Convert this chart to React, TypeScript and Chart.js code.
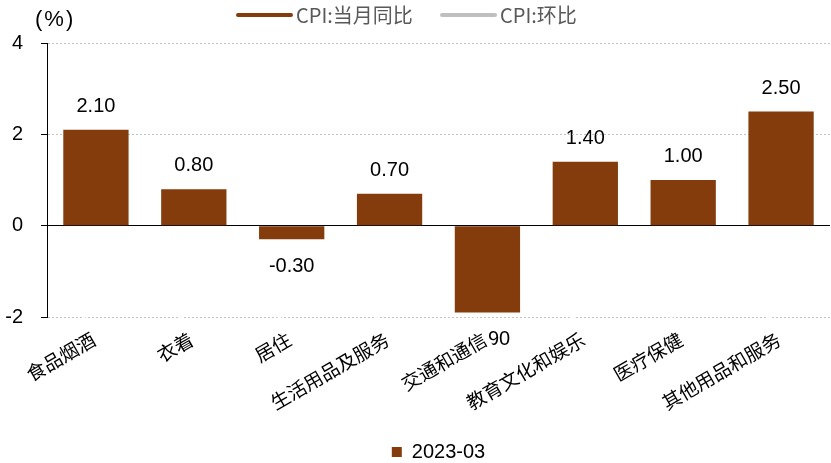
import React, { useEffect, useRef } from 'react';
import { Chart, registerables } from 'chart.js';

Chart.register(...registerables);

const categories = ['食品烟酒', '衣着', '居住', '生活用品及服务', '交通和通信', '教育文化和娱乐', '医疗保健', '其他用品和服务'];
const seriesName = '2023-03';
const values = [2.1, 0.8, -0.3, 0.7, -1.9, 1.4, 1.0, 2.5];
const yTicks = [-2, 0, 2, 4];
const topLegendNames = ['CPI:当月同比', 'CPI:环比'];
const topLegendColors = ['#843C0C', '#BFBFBF'];

const BAR = '#843C0C';
const NARROW = "'Liberation Sans Narrow', 'Arial Narrow', 'Liberation Sans', Arial, sans-serif";
const CJK = "'Noto Sans CJK SC', 'Noto Sans', sans-serif";

const valueLabelPlugin = {
  id: 'valueLabels',
  beforeDraw(chart: any) {
    const ctx = chart.ctx;
    const meta = chart.getDatasetMeta(0);
    if (!meta || !meta.data) return;
    ctx.save();
    ctx.font = `20px ${NARROW}`;
    ctx.fillStyle = '#000';
    ctx.textAlign = 'center';
    ctx.textBaseline = 'alphabetic';
    meta.data.forEach((bar: any, i: number) => {
      const v = values[i];
      const y = v >= 0 ? bar.y - 18 : bar.y + 33;
      ctx.fillText(v.toFixed(2), bar.x, y);
    });
    ctx.restore();
  },
};

export default function App() {
  const ref = useRef<HTMLCanvasElement | null>(null);

  useEffect(() => {
    if (!ref.current) return;
    const chart = new Chart(ref.current, {
      type: 'bar',
      data: {
        labels: categories,
        datasets: [
          {
            label: seriesName,
            data: values,
            backgroundColor: BAR,
            borderColor: BAR,
            borderWidth: 0,
            barPercentage: 0.667,
            categoryPercentage: 1,
          },
        ],
      },
      options: {
        responsive: false,
        animation: false,
        devicePixelRatio: 1,
        events: [],
        layout: { padding: { top: 43, right: 1, bottom: -9, left: 0 } },
        plugins: {
          tooltip: { enabled: false },
          legend: {
            display: true,
            position: 'bottom',
            fullSize: false,
            labels: {
              boxWidth: 10,
              boxHeight: 10,
              padding: 10,
              color: '#000',
              font: { family: NARROW, size: 20 },
            },
          },
        },
        scales: {
          x: {
            afterFit: (s: any) => {
              s.height = 115;
            },
            grid: { display: false, drawTicks: false },
            border: { display: false },
            ticks: {
              autoSkip: false,
              minRotation: 30,
              maxRotation: 30,
              padding: 11,
              labelOffset: -8,
              color: '#000',
              font: { family: CJK, size: 19 },
              showLabelBackdrop: true,
              backdropColor: '#ffffff',
              backdropPadding: { top: 12, left: 0, right: 3, bottom: 0 },
            },
          },
          y: {
            min: -2,
            max: 4,
            afterBuildTicks: (s: any) => {
              s.ticks = yTicks.map((v) => ({ value: v }));
            },
            afterFit: (s: any) => {
              s.width = 47;
            },
            ticks: {
              padding: 18,
              color: '#000',
              font: { family: NARROW, size: 20 },
              callback: (v: any) => String(v),
            },
            grid: {
              color: (c: any) => (c.tick && c.tick.value === 0 ? '#000000' : '#c4c4c4'),
              lineWidth: 1,
              drawTicks: true,
              tickLength: 6,
              tickColor: '#000000',
              tickBorderDash: [],
              tickWidth: 1,
            },
            border: {
              display: true,
              color: '#000000',
              width: 1,
              dash: (c: any) => (c.tick && c.tick.value !== 0 ? [2, 2] : []),
            },
          },
        },
      } as any,
      plugins: [valueLabelPlugin],
    });
    return () => chart.destroy();
  }, []);

  return (
    <div style={{ position: 'absolute', left: 0, top: 0, width: 831, height: 463, background: '#fff' }}>
      <canvas ref={ref} width={831} height={463} style={{ position: 'absolute', left: 0, top: 0 }} />
      <div
        style={{
          position: 'absolute',
          left: 35,
          top: 8,
          font: "22px 'Liberation Sans', Arial, sans-serif",
          lineHeight: '22px',
          letterSpacing: 2,
          color: '#000',
        }}
      >
        (%)
      </div>
      {topLegendNames.map((name, i) => {
        const lineLeft = i === 0 ? 236 : 440;
        return (
          <React.Fragment key={name}>
            <div
              style={{
                position: 'absolute',
                left: lineLeft,
                top: 13,
                width: 57,
                height: 4,
                borderRadius: 2,
                background: topLegendColors[i],
              }}
            />
            <div
              style={{
                position: 'absolute',
                left: lineLeft + 60,
                top: 5,
                font: `20px ${CJK}`,
                lineHeight: '20px',
                color: '#595959',
                whiteSpace: 'nowrap',
              }}
            >
              {name}
            </div>
          </React.Fragment>
        );
      })}
    </div>
  );
}
